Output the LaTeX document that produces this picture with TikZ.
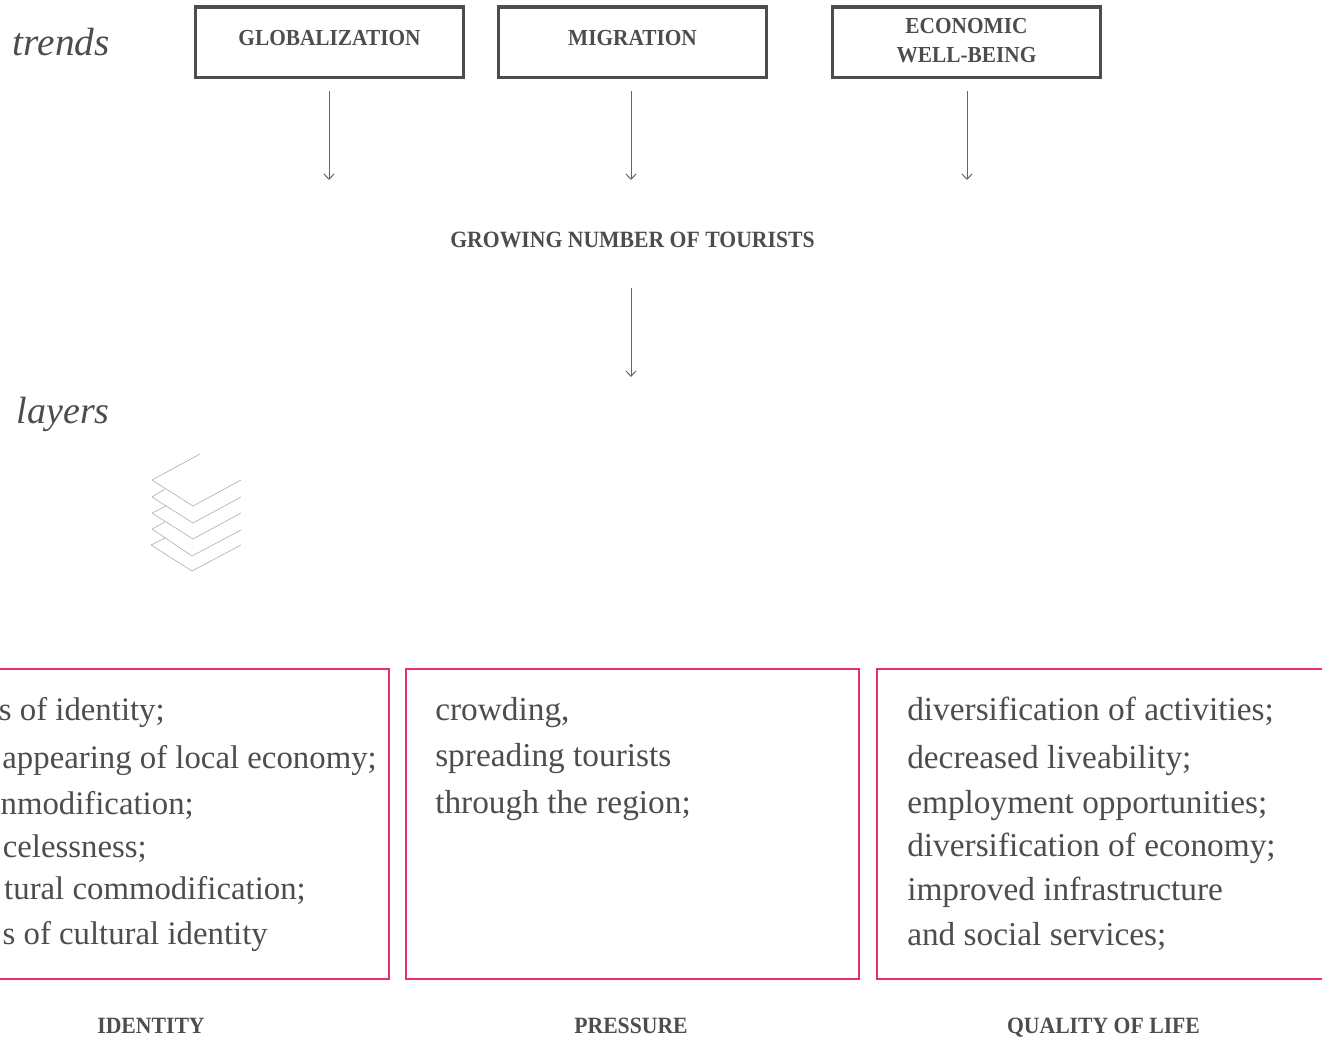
\documentclass[tikz,border=0pt]{standalone}
\usepackage{fontspec}
\setmainfont{Liberation Serif}
\newfontfamily\headfont{Liberation Serif}[FakeStretch=0.93]
\usetikzlibrary{arrows.meta}
\definecolor{inkgray}{HTML}{4D4D4D}
\definecolor{arrowgray}{HTML}{666666}
\definecolor{sheetgray}{HTML}{B3B3B3}
\definecolor{boxpink}{HTML}{E8306F}
\tikzset{
    trendbox/.style={draw=inkgray, line width=2.6pt, minimum width=201pt, minimum height=52.7pt, inner sep=0pt, align=center, text=inkgray, font=\fontsize{17.2}{21.75}\headfont\bfseries},
    headlabel/.style={text=inkgray, font=\fontsize{17.5}{21.75}\headfont\bfseries, inner sep=0pt, anchor=base},
    sidelabel/.style={text=inkgray, font=\fontsize{29.5}{34}\selectfont\itshape, inner sep=0pt, anchor=base east},
    listline/.style={text=inkgray, font=\fontsize{25}{30}\selectfont, inner sep=0pt},
    impactbox/.style={draw=boxpink, line width=1.5pt},
    flowarrow/.style={draw=arrowgray, line width=0.75pt, -{Straight Barb[length=4pt,width=7.5pt]}},
    sheet/.style={draw=sheetgray, line width=0.5pt},
}
\begin{document}
\begin{tikzpicture}[x=0.75pt,y=-0.75pt]
        \clip (0,0) rectangle (1322,1040);
        \useasboundingbox (0,0) rectangle (1322,1040);

        % Trends row:
        \node [sidelabel] (trends) at (110,55) {trends};
        \node [trendbox, text depth=6pt] (glob) at (329.5,42.2) {GLOBALIZATION};
        \node [trendbox, text depth=6pt] (migr) at (632.5,42.2) {MIGRATION};
        \node [trendbox, text depth=3pt] (econ) at (966.5,42.2) {ECONOMIC\\WELL-BEING};
        \node [headlabel] (grow) at (632.5,247) {GROWING NUMBER OF TOURISTS};

        % Arrows stop short of the boxes, ends are free:
        \coordinate (globend) at (329,180);
        \coordinate (migrend) at (631,180);
        \coordinate (econend) at (967,180);
        \coordinate (growend) at (631,377);
        \draw [flowarrow, shorten <=9pt] (glob.south -| globend) -- (globend);
        \draw [flowarrow, shorten <=9pt] (migr.south -| migrend) -- (migrend);
        \draw [flowarrow, shorten <=9pt] (econ.south -| econend) -- (econend);
        \draw [flowarrow, shorten <=31pt] (grow.base -| growend) -- (growend);

        % Layers icon, bottom sheet first:
        \node [sidelabel, font=\fontsize{28.5}{34}\selectfont\itshape] (layers) at (110,423) {layers};
        \draw [sheet] (165,538) -- (151,545) -- (192,571) -- (241,545);
        \draw [sheet] (165,522) -- (152,529) -- (192,556) -- (241,530);
        \draw [sheet] (166,506) -- (152,513) -- (193,539) -- (241,513);
        \draw [sheet] (165,489) -- (152,497) -- (193,523) -- (241,497);
        \draw [sheet] (200,454) -- (152,480) -- (193,506) -- (241,480);

        % Impact boxes, the outer two run off the page:
        \draw [impactbox] (-10,669.2) rectangle (389.2,978.5);
        \draw [impactbox] (406,669.2) rectangle (859,978.5);
        \draw [impactbox] (877,669.2) rectangle (1340,978.5);

        % Left box is cut by the page, so these hang from their right ends:
        \foreach \n/\xend/\ybase/\txt in {1/165/720/s of identity;,
                2/377/768/appearing of local economy;,
                3/194/814/nmodification;,
                4/147/857/celessness;,
                5/306/899/tural commodification;,
                6/268/944/s of cultural identity}{%
            \node [listline, font=\fontsize{24.6}{30}\selectfont, anchor=base east] (ident\n) at (\xend,\ybase) {\txt};
        }
        \foreach \n/\ybase/\txt in {1/720/crowding{,},
                2/766/spreading tourists,
                3/813/through the region;}{%
            \node [listline, anchor=base west] (press\n) at (435,\ybase) {\txt};
        }
        \foreach \n/\ybase/\txt in {1/720/diversification of activities;,
                2/768/decreased liveability;,
                3/813/employment opportunities;,
                4/856/diversification of economy;,
                5/900/improved infrastructure,
                6/945/and social services;}{%
            \node [listline, anchor=base west] (qual\n) at (907,\ybase) {\txt};
        }

        % Captions:
        \node [headlabel] (identcap) at (151,1033.5) {IDENTITY};
        \node [headlabel] (presscap) at (631,1033.5) {PRESSURE};
        \node [headlabel] (qualcap) at (1103.5,1033.5) {QUALITY OF LIFE};
    \end{tikzpicture}
\end{document}
